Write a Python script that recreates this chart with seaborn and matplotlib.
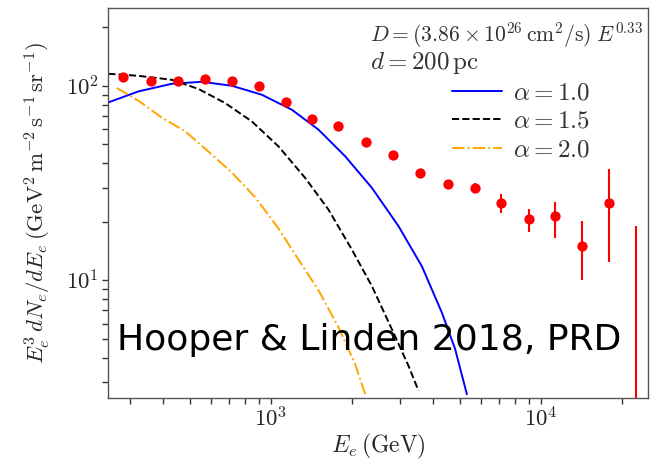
import numpy as np
import pandas as pd
import matplotlib
matplotlib.use("Agg")
import matplotlib.pyplot as plt
from matplotlib.ticker import FuncFormatter, NullFormatter
import seaborn as sns

# ---------------- data ----------------
# measured electron spectrum (red points)
data_E = [284, 359, 453, 568, 717, 900, 1136, 1419, 1779, 2249, 2844, 3581,
          4529, 5701, 7145, 9016, 11300, 14220, 17950, 22600]
data_F = [110.3, 106.1, 105.2, 108.2, 105.2, 100.0, 82.1, 67.7, 61.8, 51.2,
          44.3, 35.6, 31.1, 29.9, 25.0, 20.6, 21.5, 15.1, 25.0, 2.0]
data_err_lo = [0, 0, 0, 0, 0, 0, 0, 0, 0, 0, 0, 0.8, 1.2, 1.6, 2.8, 2.9, 4.9, 5.0, 12.6, 1.9]
data_err_hi = [0, 0, 0, 0, 0, 0, 0, 0, 0, 0, 0, 0.8, 1.2, 1.6, 2.8, 2.7, 3.7, 5.0, 12.4, 17.0]

# model curves
a10_E = [250, 323, 430, 555, 717, 926, 1196, 1501, 1885, 2366, 2969, 3626, 4298, 4815, 5320]
a10_F = [82.1, 93.5, 102.4, 104.8, 100.0, 89.9, 75.3, 59.5, 43.4, 29.9, 19.0, 11.8, 6.83, 4.43, 2.60]

a15_E = [250, 323, 430, 540, 677, 850, 1067, 1340, 1634, 1995, 2366, 2806, 3233, 3522]
a15_F = [115.2, 112.5, 107.3, 96.2, 81.5, 65.6, 48.8, 33.6, 23.1, 14.4, 9.35, 5.61, 3.64, 2.71]

a20_E = [269, 323, 395, 482, 587, 717, 875, 1067, 1265, 1501, 1780, 2052, 2235]
a20_F = [97.3, 83.8, 68.5, 58.3, 45.9, 35.8, 26.7, 18.5, 12.8, 8.89, 5.74, 3.71, 2.60]

curve_labels = [r"$\alpha = 1.0$", r"$\alpha = 1.5$", r"$\alpha = 2.0$"]
curve_colors = ["blue", "black", "orange"]
curve_styles = ["-", "--", "-."]

x_label = r"$E_e\,(\mathrm{GeV})$"
y_label = r"$E_e^3\,dN_e/dE_e\,(\mathrm{GeV}^2\,\mathrm{m}^{-2}\,\mathrm{s}^{-1}\,\mathrm{sr}^{-1})$"
note_1 = r"$D = (3.86\times 10^{26}\,\mathrm{cm}^2/\mathrm{s})\;E^{0.33}$"
note_2 = r"$d = 200\,\mathrm{pc}$"
stamp = "Hooper & Linden 2018, PRD"

# ---------------- style ----------------
sns.set_style("white")
plt.rcParams["font.family"] = ["DejaVu Sans"]
plt.rcParams["mathtext.fontset"] = "cm"

fig = plt.figure(figsize=(6.54, 4.62), dpi=100)
ax = fig.add_axes([0.1656, 0.1396, 0.8257, 0.8424])
ax.set_xscale("log")
ax.set_yscale("log")

curves = [(a10_E, a10_F), (a15_E, a15_F), (a20_E, a20_F)]
for (E, F), lab, col, ls in zip(curves, curve_labels, curve_colors, curve_styles):
    df = pd.DataFrame({"E": E, "F": F})
    sns.lineplot(data=df, x="E", y="F", ax=ax, color=col, linestyle=ls,
                 linewidth=1.4, label=lab, sort=True)

pts = pd.DataFrame({"E": data_E, "F": data_F})
ax.errorbar(data_E, data_F, yerr=[data_err_lo, data_err_hi], fmt="none",
            ecolor="red", elinewidth=1.5, capsize=0)
sns.scatterplot(data=pts, x="E", y="F", ax=ax, color="red", s=55,
                linewidth=0, zorder=5, legend=False)

ax.set_xlim(250, 25000)
ax.set_ylim(2.5, 250)

fmt = FuncFormatter(lambda v, p: r"$10^{%d}$" % int(round(np.log10(v))))
ax.xaxis.set_major_formatter(fmt)
ax.yaxis.set_major_formatter(fmt)
ax.xaxis.set_minor_formatter(NullFormatter())
ax.yaxis.set_minor_formatter(NullFormatter())
ax.tick_params(which="both", direction="out", length=4, width=1.0,
               color="#333333", labelsize=16.5, left=True, bottom=True,
               top=False, right=False, pad=3)
for sp in ax.spines.values():
    sp.set_color("#555555")
    sp.set_linewidth(1.0)

ax.set_xlabel(x_label, fontsize=17)
ax.set_ylabel(y_label, fontsize=16.5)
ax.xaxis.set_label_coords(0.5, -0.088)
ax.yaxis.set_label_coords(-0.102, 0.5)

ax.text(0.4846, 0.9314, note_1, transform=ax.transAxes, fontsize=15.6,
        ha="left", va="center", color="#333333")
ax.text(0.4846, 0.8594, note_2, transform=ax.transAxes, fontsize=18,
        ha="left", va="center", color="#333333")

leg = ax.legend(loc="upper left", bbox_to_anchor=(0.636, 0.815), frameon=False,
                fontsize=18, handlelength=2.0, handletextpad=0.45,
                labelspacing=0.18, borderpad=0, borderaxespad=0)
for t in leg.get_texts():
    t.set_color("#333333")

fig.text(0.1784, 0.264, stamp, fontsize=26, color="black", ha="left", va="center")

fig.savefig("out.png", dpi=100)
